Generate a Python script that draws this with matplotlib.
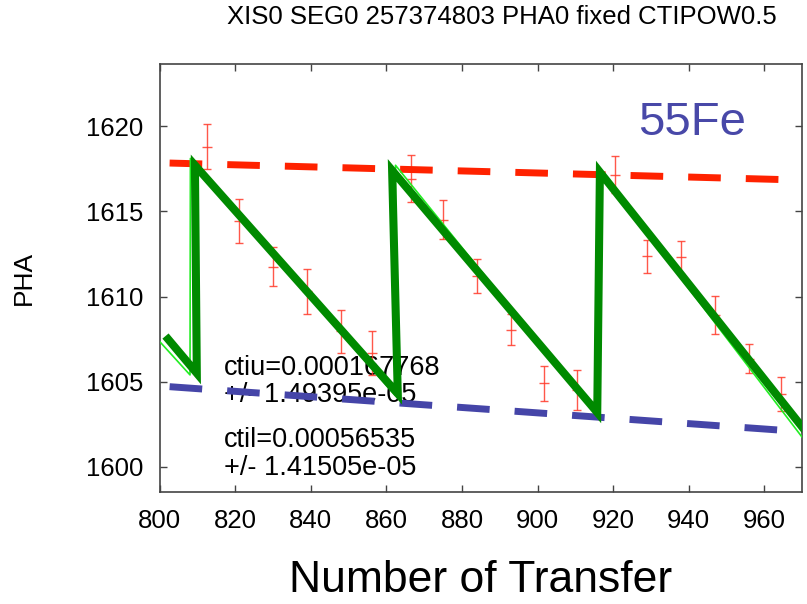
import numpy as np
import matplotlib
matplotlib.use("Agg")
import matplotlib.pyplot as plt

plt.rcParams['font.family'] = ['Liberation Sans', 'DejaVu Sans']

# measured PHA points with errors
trans = [812.6, 820.9, 830.0, 838.9, 847.9, 856.3, 866.4, 874.9, 883.9,
         893.0, 901.8, 910.4, 920.5, 928.9, 937.9, 947.0, 956.0, 964.5]
pha = [1618.8, 1614.45, 1611.75, 1610.3, 1607.95, 1606.7, 1616.9, 1614.5, 1611.2,
       1608.05, 1604.9, 1604.5, 1617.15, 1612.35, 1612.3, 1608.9, 1606.35, 1604.3]
pha_err = [1.3, 1.3, 1.15, 1.3, 1.25, 1.3, 1.38, 1.14, 1.0,
           0.9, 1.04, 1.17, 1.07, 0.98, 0.98, 1.12, 0.85, 1.0]

# sawtooth model (thick) and fit (thin)
model_x = [802.2, 809.8, 809.3, 863.0, 861.5, 915.8, 916.5, 972.0]
model_y = [1607.5, 1605.5, 1617.7, 1604.3, 1617.4, 1603.2, 1617.3, 1601.8]
fit_x = [800.0, 808.0, 808.1, 862.3, 862.4, 916.0, 916.2, 970.2, 970.3]
fit_y = [1607.35, 1605.4, 1618.1, 1604.2, 1617.7, 1603.0, 1617.4, 1601.7, 1617.0]

# upper / lower envelopes
env_x = [802.6, 970.0]
upper_y = [1617.83, 1616.83]
lower_y = [1604.71, 1602.07]

fit_text = ["ctiu=0.000167768", "+/- 1.49395e-05", "ctil=0.00056535", "+/- 1.41505e-05"]
text_y = [1605.8, 1604.22, 1601.58, 1599.94]

fig = plt.figure(figsize=(8.07, 6.04), dpi=100)
ax = fig.add_axes([0.198, 0.1854, 0.7958, 0.7086])

for s, ty in zip(fit_text, text_y):
    ax.text(817.0, ty, s, fontsize=19.5, va='center', ha='left', zorder=1)

ax.errorbar(trans, pha, yerr=pha_err, fmt='_', color='#ff3b2a', ms=7, mew=1,
            elinewidth=1, capsize=3, capthick=1, alpha=0.85, zorder=2)

ax.plot(env_x, upper_y, color='#ff2200', lw=5, dashes=(4.7, 3.6),
        dash_capstyle='butt', zorder=3)
ax.plot(env_x, lower_y, color='#4545a8', lw=5, dashes=(4.7, 3.6),
        dash_capstyle='butt', zorder=3)

ax.plot(fit_x, fit_y, color='#22ee22', lw=1.2, zorder=4)
ax.plot(model_x, model_y, color='#008a00', lw=5.8, solid_joinstyle='miter', zorder=5)

ax.text(940.9, 1620.18, "55Fe", color='#4848a8', fontsize=34, ha='center', va='center')

ax.set_xlim(800, 970)
ax.set_ylim(1598.53, 1623.64)
ax.set_xticks(np.arange(800, 961, 20))
ax.set_yticks(np.arange(1600, 1621, 5))
ax.tick_params(direction='in', top=True, right=True, length=5, width=1,
               labelsize=18.5, pad=12, color='#444444')
for sp in ax.spines.values():
    sp.set_color('#444444')
    sp.set_linewidth(1.2)

ax.set_ylabel("PHA", fontsize=19, labelpad=36)
ax.set_xlabel("Number of Transfer", fontsize=32, labelpad=20)
fig.text(0.622, 0.972, "XIS0 SEG0 257374803 PHA0 fixed CTIPOW0.5",
         fontsize=18.5, ha='center', va='center')

fig.savefig("out.png", dpi=100)
